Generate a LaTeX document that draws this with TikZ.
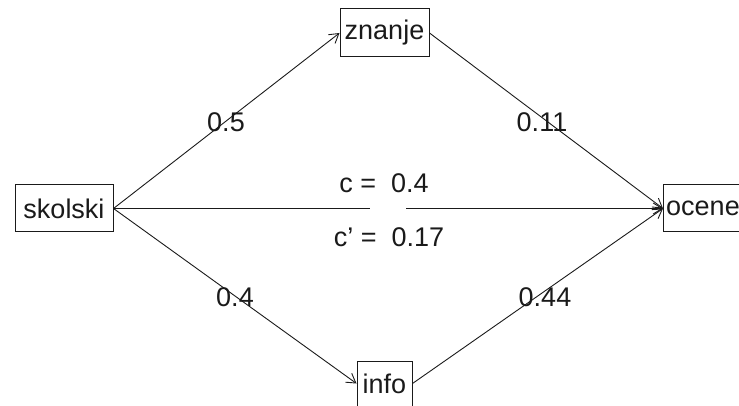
\documentclass[tikz,border=0pt]{standalone}
\usepackage{fontspec}
\setmainfont{Liberation Sans}[Ligatures=ResetAll]
\usetikzlibrary{arrows.meta}
\definecolor{ink}{HTML}{1A1A1A}
\begin{document}
\begin{tikzpicture}[x=1pt,y=-1pt,
  box/.style={draw=ink,line width=1pt,inner sep=0pt,minimum height=47pt,text=ink,font=\fontsize{27}{27}\selectfont},
  lab/.style={inner sep=0pt,text=ink,font=\fontsize{27}{27}\selectfont},
  conn/.style={draw=ink,line width=0.9pt},
  arr/.style={conn,-{Straight Barb[length=9pt,width=11pt,line width=0.9pt]}}]
\useasboundingbox (0,0) rectangle (739,406);
\node[box,minimum width=98pt] (skolski) at (64,208.5) {skolski};
\node[box,minimum width=89pt,minimum height=48pt] (znanje) at (384.5,33) {znanje};
\node[box,minimum width=79pt,anchor=west] (ocene) at (663,208.5) {ocene};
\node[box,minimum width=55pt,minimum height=45pt] (info) at (384.5,383.5) {info};
\coordinate (gapL) at (370,208.5);
\coordinate (gapR) at (406,208.5);
\draw[arr] (skolski.east) -- (znanje.west);
\draw[arr] (znanje.east) -- (ocene.west);
\draw[arr] (skolski.east) -- (info.west);
\draw[arr] (info.east) -- (ocene.west);
\draw[conn] (skolski.east) -- (gapL);
\draw[arr] (gapR) -- (ocene.west);
\node[lab] (a) at (226,122) {0.5};
\node[lab] (b) at (542,122) {0.11};
\node[lab] (c) at (235,297) {0.4};
\node[lab] (d) at (545,297) {0.44};
\node[lab] (ctot) at (384,183) {c =\ \ 0.4};
\node[lab] (cdir) at (389,237) {c' =\ \ 0.17};
\end{tikzpicture}
\end{document}
